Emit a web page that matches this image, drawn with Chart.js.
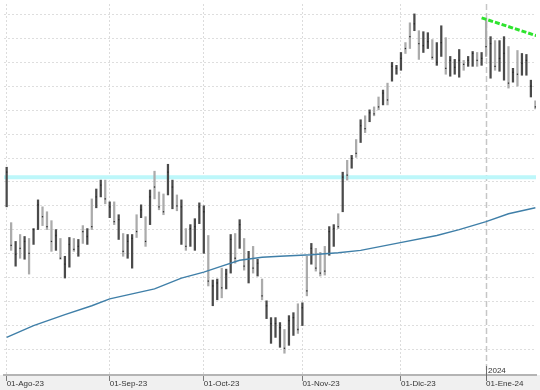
<!DOCTYPE html>
<html>
<head>
<meta charset="utf-8">
<script src="https://cdn.jsdelivr.net/npm/chart.js@4.4.0/dist/chart.umd.min.js"></script>
<style>
  html, body { margin: 0; padding: 0; background: #fff; }
  canvas { display: block; }
</style>
</head>
<body>
<canvas id="myChart" width="540" height="390"></canvas>
<script>
// trading-day index of each month start, and its label
var monthIdx = [0, 23, 44, 66, 88, 107];
var monthLabels = ['01-Ago-23', '01-Sep-23', '01-Oct-23', '01-Nov-23', '01-Dic-23', '01-Ene-24'];
var yearIdx = 107;
var yearLabel = '2024';

// daily bars, one value per trading day from 01-Ago-23
var open = [
  173, 150, 112, 140, 120, 136, 134, 149, 168, 163,
  150, 130, 135, 100, 112, 136, 122, 149, 134, 175,
  171, 182, 195, 161, 172, 140, 140, 120, 112, 160,
  160, 157, 155, 203, 183, 180, 185, 170, 180, 135,
  145, 132, 128, 155, 125, 138, 72, 78, 105, 89,
  106, 140, 131, 135, 95, 127, 102, 94, 59, 35,
  40, 30, 43, 32, 42, 69, 52, 116, 114, 125,
  121, 127, 123, 132, 161, 167, 214, 211, 235, 238,
  259, 258, 269, 279, 275, 292, 300, 306, 310, 334,
  353, 350, 346, 328, 332, 336, 314, 325, 338, 305,
  306, 304, 316, 313, 314, 324, 315, 355, 302, 335,
  310, 300, 328, 298, 325, 305, 306, 283, 275
];
var high = [
  210, 154, 135, 142, 140, 138, 148, 177, 170, 165,
  156, 147, 138, 120, 139, 138, 137, 151, 148, 178,
  188, 197, 197, 175, 175, 162, 143, 142, 142, 162,
  172, 160, 187, 206, 185, 183, 213, 197, 182, 177,
  148, 152, 158, 174, 171, 141, 96, 97, 108, 107,
  142, 143, 157, 138, 125, 130, 117, 97, 75, 58,
  58, 53, 46, 60, 63, 72, 73, 120, 133, 128,
  124, 130, 150, 152, 163, 205, 217, 222, 238, 258,
  262, 268, 271, 281, 288, 295, 316, 313, 326, 336,
  356, 365, 348, 347, 346, 339, 336, 353, 341, 322,
  319, 329, 318, 322, 327, 326, 326, 360, 342, 338,
  338, 342, 332, 310, 328, 325, 324, 298, 277
];
var low = [
  170, 126, 110, 118, 117, 102, 132, 147, 151, 147,
  125, 126, 117, 98, 109, 125, 120, 133, 132, 147,
  169, 180, 173, 159, 152, 137, 120, 118, 108, 139,
  159, 130, 152, 178, 167, 162, 182, 168, 166, 132,
  126, 130, 126, 153, 123, 90, 70, 76, 78, 87,
  103, 113, 128, 106, 93, 103, 100, 76, 57, 32,
  38, 28, 22, 30, 40, 42, 50, 80, 112, 105,
  100, 101, 121, 130, 148, 165, 197, 209, 220, 235,
  245, 256, 262, 268, 273, 273, 297, 304, 308, 325,
  330, 348, 319, 326, 330, 319, 313, 322, 304, 302,
  304, 301, 308, 312, 312, 312, 313, 322, 300, 308,
  307, 298, 290, 296, 292, 303, 303, 281, 269
];
var close = [
  205, 131, 122, 128, 135, 123, 147, 172, 160, 150,
  135, 141, 118, 112, 132, 127, 130, 145, 140, 150,
  180, 192, 178, 170, 155, 157, 125, 135, 138, 145,
  167, 135, 180, 190, 170, 165, 205, 190, 171, 170,
  130, 148, 150, 170, 165, 95, 90, 93, 88, 102,
  137, 118, 152, 110, 118, 108, 113, 80, 70, 52,
  52, 48, 27, 55, 58, 46, 68, 85, 128, 108,
  103, 105, 145, 148, 150, 200, 202, 219, 224, 252,
  249, 265, 264, 271, 285, 278, 312, 310, 320, 330,
  342, 355, 335, 333, 337, 321, 316, 336, 310, 318,
  311, 318, 314, 318, 325, 318, 320, 332, 335, 312,
  320, 325, 295, 306, 304, 315, 318, 292, 271
];

// long moving average, read at a few days
var maIdx = [0, 6, 13, 19, 23, 28, 33, 39, 44, 48, 52, 57, 61, 68, 74, 79, 87, 96, 101, 107, 112, 118];
var maVal = [38, 50, 61, 70, 77, 82, 87, 98, 104, 110, 116, 119, 120, 121.5, 123.5, 126, 133, 141, 147, 155, 163, 169];

// horizontal level and falling trend line
var level = 200;
var trendIdx = [106, 118.2];
var trendVal = [361, 343];

var xMin = -0.594, xMax = 118.14;
var dark = '#4a4a4a', grey = '#ababab';

var bars = open.map(function(o, i) { return { x: i, y: [low[i], high[i]] }; });
var closes = close.map(function(c, i) { return { x: i, y: c }; });
var ma = maIdx.map(function(d, i) { return { x: d, y: maVal[i] }; });
var trend = trendIdx.map(function(d, i) { return { x: d, y: trendVal[i] }; });

var extras = {
  id: 'extras',
  beforeDraw: function(chart) {
    var ctx = chart.ctx, a = chart.chartArea;
    ctx.save();
    ctx.fillStyle = '#f0f0f0';
    ctx.fillRect(0, a.bottom, chart.width, chart.height - a.bottom);
    ctx.restore();
  },
  beforeDatasetsDraw: function(chart) {
    var ctx = chart.ctx, a = chart.chartArea;
    var x = Math.round(chart.scales.x.getPixelForValue(yearIdx)) + 0.5;
    ctx.save();
    ctx.strokeStyle = '#c6c6c6';
    ctx.lineWidth = 1.5;
    ctx.setLineDash([6, 3]);
    ctx.beginPath();
    ctx.moveTo(x, a.top);
    ctx.lineTo(x, a.bottom);
    ctx.stroke();
    ctx.restore();
  },
  afterDraw: function(chart) {
    var ctx = chart.ctx, a = chart.chartArea;
    var x = Math.round(chart.scales.x.getPixelForValue(yearIdx)) + 0.5;
    ctx.save();
    ctx.strokeStyle = '#6e6e6e';
    ctx.lineWidth = 1;
    ctx.beginPath();
    ctx.moveTo(x, a.bottom - 9);
    ctx.lineTo(x, a.bottom + 6);
    ctx.stroke();
    ctx.fillStyle = '#333';
    ctx.font = '8px "Liberation Sans"';
    ctx.textAlign = 'left';
    ctx.textBaseline = 'alphabetic';
    ctx.fillText(yearLabel, x + 1.5, a.bottom - 2);
    ctx.restore();
  }
};

var ctx = document.getElementById('myChart').getContext('2d');
var chart = new Chart(ctx, {
  type: 'line',
  data: {
    datasets: [{
      type: 'line',
      data: [{ x: xMin, y: level }, { x: xMax, y: level }],
      borderColor: '#bdf7fa',
      borderWidth: 4,
      pointRadius: 0,
      order: 5
    }, {
      type: 'bar',
      data: bars,
      backgroundColor: function(c) { return close[c.dataIndex] >= open[c.dataIndex] ? dark : grey; },
      borderWidth: 0,
      borderSkipped: false,
      barThickness: 1.6,
      order: 4
    }, {
      type: 'line',
      data: closes,
      showLine: false,
      pointStyle: 'rect',
      pointRadius: 0.9,
      pointBorderWidth: 0,
      pointBackgroundColor: '#2a2a2a',
      order: 3
    }, {
      type: 'line',
      data: ma,
      borderColor: '#3f7fa8',
      borderWidth: 1.4,
      pointRadius: 0,
      tension: 0,
      order: 2
    }, {
      type: 'line',
      data: trend,
      borderColor: '#2ee32e',
      borderWidth: 3,
      borderDash: [5, 2],
      pointRadius: 0,
      order: 1
    }]
  },
  options: {
    responsive: false,
    devicePixelRatio: 1,
    animation: false,
    events: [],
    layout: { padding: 0 },
    plugins: { legend: { display: false }, tooltip: { enabled: false } },
    scales: {
      x: {
        type: 'linear',
        min: xMin,
        max: xMax,
        offset: false,
        afterBuildTicks: function(scale) {
          scale.ticks = monthIdx.map(function(v) { return { value: v }; });
        },
        afterFit: function(scale) { scale.height = 15; },
        grid: {
          offset: false,
          color: function(c) { return c.tick && c.tick.value === yearIdx ? 'rgba(0,0,0,0)' : '#dcdcdc'; },
          tickColor: '#7a7a7a',
          tickLength: 6,
          tickWidth: 1,
          tickBorderDash: []
        },
        border: { display: true, color: '#b4b4b4', width: 2, dash: [2, 2] },
        ticks: {
          autoSkip: false,
          maxRotation: 0,
          align: 'start',
          padding: -2,
          labelOffset: 0,
          color: '#333',
          font: { family: 'Liberation Sans', size: 8 },
          callback: function(v, i) { return monthLabels[i]; }
        }
      },
      y: {
        type: 'linear',
        min: 0,
        max: 375,
        afterBuildTicks: function(scale) {
          var t = [];
          for (var v = 26; v < 375; v += 24.16) t.push({ value: v });
          scale.ticks = t;
        },
        afterFit: function(scale) { scale.width = 0; },
        ticks: { display: false },
        grid: { color: '#dedede', drawTicks: false },
        border: { display: false, dash: [2, 2] }
      }
    }
  },
  plugins: [extras]
});
</script>
</body>
</html>
